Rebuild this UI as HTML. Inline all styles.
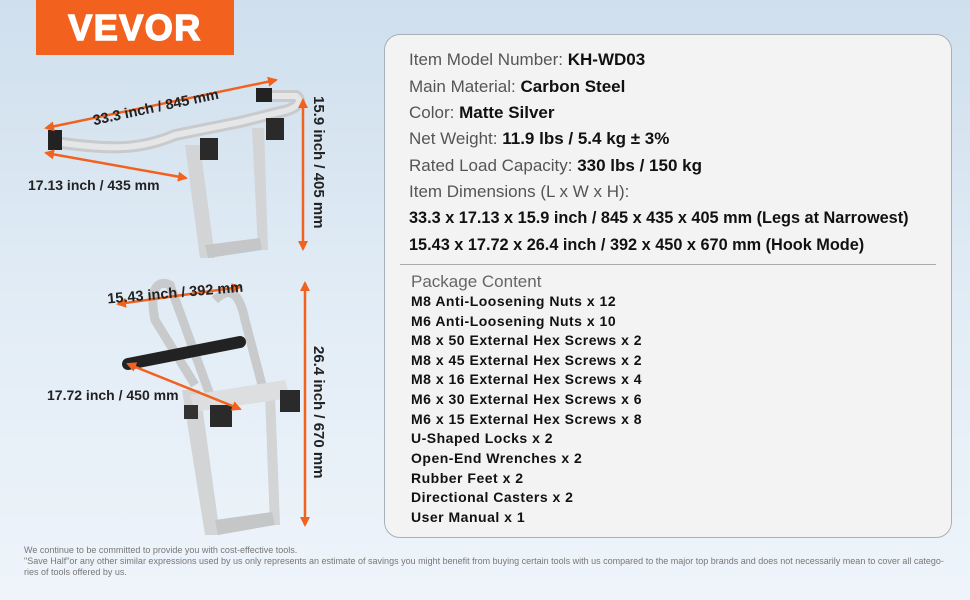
<!DOCTYPE html>
<html><head><meta charset="utf-8"><style>
*{margin:0;padding:0;box-sizing:border-box}
body{width:970px;height:600px;overflow:hidden;font-family:"Liberation Sans",Arial,sans-serif;background:linear-gradient(180deg,#cfdfed 0%,#e3edf6 55%,#eef4fa 100%);position:relative}
.logo{position:absolute;left:36px;top:0;width:198px;height:55px;background:#f2611d;color:#fff;font-family:"Liberation Sans",sans-serif;font-weight:bold;font-size:36px;letter-spacing:1.5px;text-align:center;line-height:56px;-webkit-text-stroke:1.5px #fff}
.card{position:absolute;left:384px;top:34px;width:568px;height:504px;background:#f3f3f3;border:1px solid #a9b0b8;border-radius:16px}
.l{position:absolute;left:409px;font-size:17px;color:#555;white-space:nowrap}
.l b{color:#111}
.d{position:absolute;left:409px;font-size:16.3px;font-weight:bold;color:#111;white-space:nowrap}
.hr{position:absolute;left:400px;top:264px;width:536px;height:1px;background:#aaa}
.p{position:absolute;left:411px;font-size:14px;font-weight:bold;color:#111;letter-spacing:0.5px;white-space:nowrap}
.foot{position:absolute;left:24px;font-size:9px;color:#777;white-space:nowrap}
svg{position:absolute;left:0;top:0}
</style></head><body>
<div class="logo">VEVOR</div>
<svg width="380" height="600" viewBox="0 0 380 600">
<defs><marker id="a" markerUnits="userSpaceOnUse" markerWidth="10" markerHeight="10" refX="8" refY="5" orient="auto-start-reverse"><path d="M0,0 L10,5 L0,10 Z" fill="#f2611d"/></marker></defs>
<!-- top rack -->
<path d="M55,142 C110,150 140,150 175,135 L240,122 L280,112 C300,108 302,100 296,96 L270,96" fill="none" stroke="#c8cacc" stroke-width="12"/>
<path d="M55,142 C110,150 140,150 175,135 L240,122 L280,112 C300,108 302,100 296,96 L270,96" fill="none" stroke="#e4e6e8" stroke-width="6"/>
<rect x="48" y="130" width="14" height="20" fill="#222"/>
<rect x="256" y="88" width="16" height="14" fill="#222"/>
<path d="M185,145 L200,258 L215,258 L200,145 Z" fill="#d2d4d6"/>
<path d="M252,128 L258,250 L268,250 L264,128 Z" fill="#d2d4d6"/>
<path d="M205,245 L260,238 L262,250 L208,258 Z" fill="#c4c6c8"/>
<rect x="200" y="138" width="18" height="22" fill="#2a2a2a"/>
<rect x="266" y="118" width="18" height="22" fill="#2a2a2a"/>
<line x1="46" y1="128" x2="276" y2="80" stroke="#f2611d" stroke-width="2.5" marker-start="url(#a)" marker-end="url(#a)"/>
<line x1="46" y1="153" x2="186" y2="178" stroke="#f2611d" stroke-width="2.5" marker-start="url(#a)" marker-end="url(#a)"/>
<line x1="303" y1="100" x2="303" y2="249" stroke="#f2611d" stroke-width="2.5" marker-start="url(#a)" marker-end="url(#a)"/>
<text x="90" y="113" transform="rotate(-12 150 100)" font-size="14.5" font-weight="bold" fill="#222" font-family="Liberation Sans">33.3 inch / 845 mm</text>
<text x="28" y="190" font-size="14" font-weight="bold" fill="#222" font-family="Liberation Sans">17.13 inch / 435 mm</text>
<text x="0" y="0" transform="translate(314,96) rotate(90)" font-size="15" font-weight="bold" fill="#222" font-family="Liberation Sans">15.9 inch / 405 mm</text>
<!-- bottom rack -->
<path d="M195,385 L155,320 C148,285 160,280 170,285 L210,395" fill="none" stroke="#c8cacc" stroke-width="9"/>
<path d="M262,385 L245,320 C238,285 225,290 215,300" fill="none" stroke="#c8cacc" stroke-width="9"/>
<path d="M182,390 L205,535 L220,535 L200,390 Z" fill="#d2d4d6"/>
<path d="M265,395 L270,525 L280,525 L275,395 Z" fill="#d2d4d6"/>
<path d="M215,520 L272,512 L275,525 L218,535 Z" fill="#c4c6c8"/>
<path d="M190,395 L285,380 L290,398 L195,412 Z" fill="#dcdedf"/>
<line x1="128" y1="364" x2="240" y2="342" stroke="#222" stroke-width="12" stroke-linecap="round"/>
<rect x="210" y="405" width="22" height="22" fill="#2a2a2a"/>
<rect x="280" y="390" width="20" height="22" fill="#2a2a2a"/>
<rect x="184" y="405" width="14" height="14" fill="#333"/>
<line x1="118" y1="304" x2="240" y2="287" stroke="#f2611d" stroke-width="2.5" marker-start="url(#a)" marker-end="url(#a)"/>
<line x1="128" y1="364" x2="240" y2="409" stroke="#f2611d" stroke-width="2.5" marker-start="url(#a)" marker-end="url(#a)"/>
<line x1="305" y1="283" x2="305" y2="525" stroke="#f2611d" stroke-width="2.5" marker-start="url(#a)" marker-end="url(#a)"/>
<text x="107" y="298" transform="rotate(-5 170 292)" font-size="14.5" font-weight="bold" fill="#222" font-family="Liberation Sans">15.43 inch / 392 mm</text>
<text x="47" y="400" font-size="14" font-weight="bold" fill="#222" font-family="Liberation Sans">17.72 inch / 450 mm</text>
<text x="0" y="0" transform="translate(314,346) rotate(90)" font-size="15" font-weight="bold" fill="#222" font-family="Liberation Sans">26.4 inch / 670 mm</text>
</svg>
<div class="card"></div>
<div class="l" style="top:50px">Item Model Number: <b>KH-WD03</b></div>
<div class="l" style="top:77px">Main Material: <b>Carbon Steel</b></div>
<div class="l" style="top:103px">Color: <b>Matte Silver</b></div>
<div class="l" style="top:129px">Net Weight: <b>11.9 lbs / 5.4 kg ± 3%</b></div>
<div class="l" style="top:156px">Rated Load Capacity: <b>330 lbs / 150 kg</b></div>
<div class="l" style="top:182px">Item Dimensions (L x W x H):</div>
<div class="d" style="top:209px">33.3 x 17.13 x 15.9 inch / 845 x 435 x 405 mm (Legs at Narrowest)</div>
<div class="d" style="top:236px">15.43 x 17.72 x 26.4 inch / 392 x 450 x 670 mm (Hook Mode)</div>
<div class="hr"></div>
<div class="l" style="left:411px;top:272px;color:#666">Package Content</div>
<div class="p" style="top:293px">M8 Anti-Loosening Nuts x 12</div>
<div class="p" style="top:313px">M6 Anti-Loosening Nuts x 10</div>
<div class="p" style="top:332px">M8 x 50 External Hex Screws x 2</div>
<div class="p" style="top:352px">M8 x 45 External Hex Screws x 2</div>
<div class="p" style="top:371px">M8 x 16 External Hex Screws x 4</div>
<div class="p" style="top:391px">M6 x 30 External Hex Screws x 6</div>
<div class="p" style="top:411px">M6 x 15 External Hex Screws x 8</div>
<div class="p" style="top:430px">U-Shaped Locks x 2</div>
<div class="p" style="top:450px">Open-End Wrenches x 2</div>
<div class="p" style="top:470px">Rubber Feet x 2</div>
<div class="p" style="top:489px">Directional Casters x 2</div>
<div class="p" style="top:509px">User Manual x 1</div>
<div class="foot" style="top:545px">We continue to be committed to provide you with cost-effective tools.</div>
<div class="foot" style="top:556px">"Save Half"or any other similar expressions used by us only represents an estimate of savings you might benefit from buying certain tools with us compared to the major top brands and does not necessarily mean to cover all catego-</div>
<div class="foot" style="top:567px">ries of tools offered by us.</div>
</body></html>
